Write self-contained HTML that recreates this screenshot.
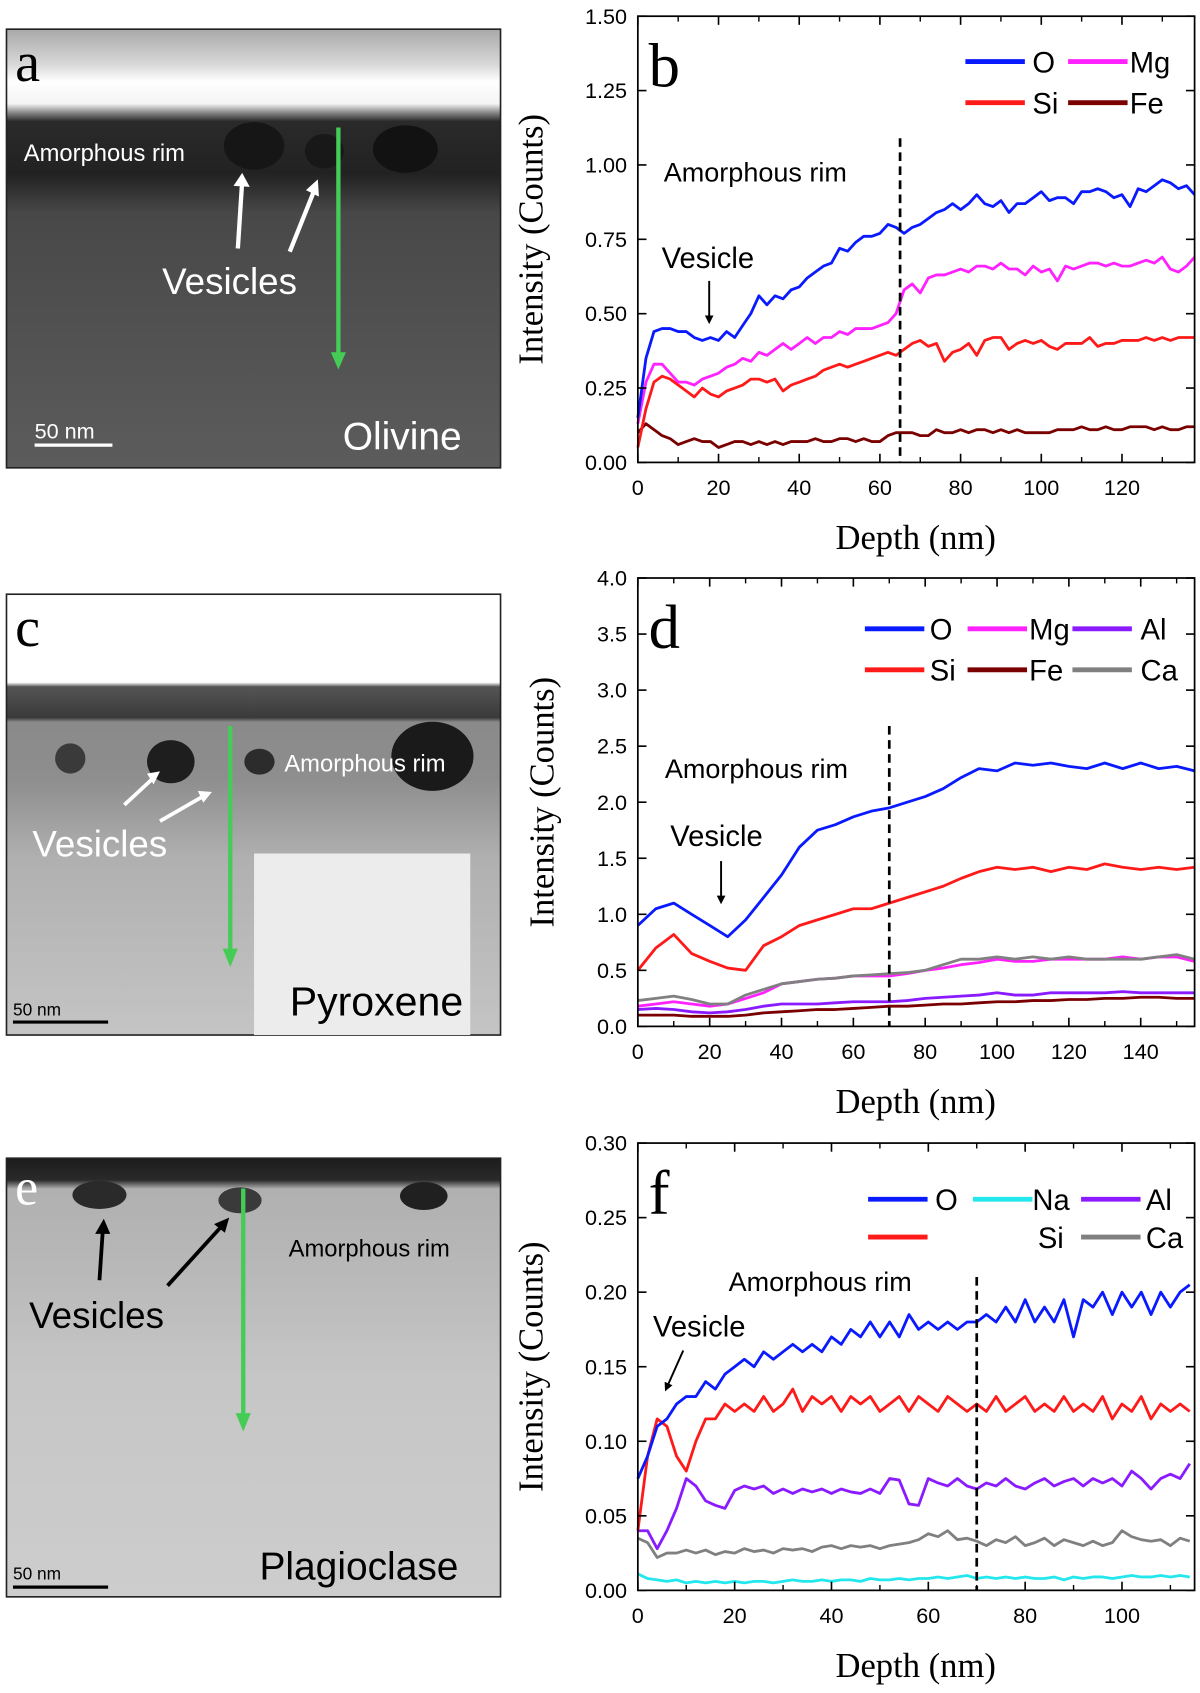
<!DOCTYPE html>
<html><head><meta charset="utf-8"><style>
html,body{margin:0;padding:0;background:#fff;}
svg{display:block;}
text{font-family:"Liberation Sans",sans-serif;}
.serif{font-family:"Liberation Serif",serif;}
</style></head><body>
<svg id="fig" width="1200" height="1693" viewBox="0 0 1110 1567" preserveAspectRatio="none" xmlns="http://www.w3.org/2000/svg">
<defs>
<linearGradient id="gA" x1="0" y1="0" x2="0" y2="1">
<stop offset="0" stop-color="#a8a8a8"/><stop offset="0.08" stop-color="#d8d8d8"/><stop offset="0.12" stop-color="#ffffff"/><stop offset="0.17" stop-color="#f4f4f4"/><stop offset="0.19" stop-color="#8a8a8a"/><stop offset="0.21" stop-color="#2a2a2a"/><stop offset="0.33" stop-color="#222"/><stop offset="0.42" stop-color="#484848"/><stop offset="1" stop-color="#5c5c5c"/>
</linearGradient>
<linearGradient id="gC" x1="0" y1="0" x2="0" y2="1">
<stop offset="0" stop-color="#fff"/><stop offset="0.2" stop-color="#fff"/><stop offset="0.21" stop-color="#555"/><stop offset="0.28" stop-color="#3a3a3a"/><stop offset="0.29" stop-color="#8a8a8a"/><stop offset="0.42" stop-color="#8e8e8e"/><stop offset="0.6" stop-color="#b0b0b0"/><stop offset="1" stop-color="#c4c4c4"/>
</linearGradient>
<linearGradient id="gE" x1="0" y1="0" x2="0" y2="1">
<stop offset="0" stop-color="#1c1c1c"/><stop offset="0.05" stop-color="#2a2a2a"/><stop offset="0.07" stop-color="#b0b0b0"/><stop offset="0.25" stop-color="#b8b8b8"/><stop offset="0.5" stop-color="#c6c6c6"/><stop offset="1" stop-color="#cdcdcd"/>
</linearGradient>
<marker id="ah" markerWidth="8" markerHeight="8" refX="6" refY="4" orient="auto" markerUnits="userSpaceOnUse"><path d="M0,0 L8,4 L0,8 z" fill="#000"/></marker>
</defs>

<!-- Panel a image -->
<g>
<rect x="6" y="27" width="457" height="406" fill="url(#gA)" stroke="#222" stroke-width="1.5"/>
<ellipse cx="235" cy="135" rx="28" ry="22" fill="#161616"/>
<ellipse cx="375" cy="138" rx="30" ry="22" fill="#121212"/>
<ellipse cx="300" cy="140" rx="18" ry="16" fill="#181818"/>
<text x="14" y="75" class="serif" font-size="52" fill="#000">a</text>
<text x="22" y="149" font-size="22" fill="#fff">Amorphous rim</text>
<text x="150" y="272" font-size="34" fill="#fff">Vesicles</text>
<line x1="220" y1="230" x2="224" y2="168" stroke="#fff" stroke-width="4"/>
<path d="M216,172 L224,160 L231,173 z" fill="#fff"/>
<line x1="268" y1="233" x2="290" y2="178" stroke="#fff" stroke-width="4"/>
<path d="M283,176 L294,166 L295,182 z" fill="#fff"/>
<line x1="313" y1="118" x2="313" y2="328" stroke="#44cc55" stroke-width="4"/>
<path d="M306,326 L313,342 L320,326 z" fill="#44cc55"/>
<text x="32" y="406" font-size="20" fill="#fff">50 nm</text>
<line x1="32" y1="412" x2="104" y2="412" stroke="#fff" stroke-width="3"/>
<text x="317" y="416" font-size="36" fill="#fff">Olivine</text>
</g>

<!-- Panel c image -->
<g>
<rect x="6" y="550" width="457" height="408" fill="url(#gC)" stroke="#222" stroke-width="1.5"/>
<rect x="235" y="790" width="200" height="168" fill="#ececec"/>
<ellipse cx="158" cy="705" rx="22" ry="20" fill="#1e1e1e"/>
<ellipse cx="65" cy="702" rx="14" ry="14" fill="#3a3a3a"/>
<ellipse cx="400" cy="700" rx="38" ry="32" fill="#1a1a1a"/>
<ellipse cx="240" cy="705" rx="14" ry="12" fill="#2c2c2c"/>
<text x="14" y="598" class="serif" font-size="52" fill="#000">c</text>
<text x="263" y="714" font-size="22" fill="#fff">Amorphous rim</text>
<text x="30" y="793" font-size="34" fill="#fff">Vesicles</text>
<line x1="115" y1="745" x2="142" y2="720" stroke="#fff" stroke-width="3.5"/>
<path d="M136,716 L148,714 L142,726 z" fill="#fff"/>
<line x1="148" y1="760" x2="188" y2="737" stroke="#fff" stroke-width="3.5"/>
<path d="M183,732 L196,733 L188,743 z" fill="#fff"/>
<line x1="213" y1="672" x2="213" y2="880" stroke="#44cc55" stroke-width="4"/>
<path d="M206,878 L213,895 L220,878 z" fill="#44cc55"/>
<text x="12" y="940" font-size="16" fill="#000">50 nm</text>
<line x1="12" y1="946" x2="100" y2="946" stroke="#000" stroke-width="3"/>
<text x="268" y="940" font-size="38" fill="#000">Pyroxene</text>
</g>

<!-- Panel e image -->
<g>
<rect x="6" y="1072" width="457" height="406" fill="url(#gE)" stroke="#222" stroke-width="1.5"/>
<ellipse cx="92" cy="1106" rx="25" ry="13" fill="#2a2a2a"/>
<ellipse cx="222" cy="1111" rx="20" ry="12" fill="#3a3a3a"/>
<ellipse cx="392" cy="1107" rx="22" ry="13" fill="#202020"/>
<text x="14" y="1115" class="serif" font-size="48" fill="#fff">e</text>
<text x="267" y="1163" font-size="22" fill="#000">Amorphous rim</text>
<text x="27" y="1229" font-size="34" fill="#000">Vesicles</text>
<line x1="92" y1="1185" x2="95" y2="1140" stroke="#000" stroke-width="3.5"/>
<path d="M88,1142 L96,1128 L102,1142 z" fill="#000"/>
<line x1="155" y1="1190" x2="205" y2="1135" stroke="#000" stroke-width="3.5"/>
<path d="M198,1133 L212,1127 L208,1141 z" fill="#000"/>
<line x1="225" y1="1100" x2="225" y2="1310" stroke="#44cc55" stroke-width="4"/>
<path d="M218,1308 L225,1325 L232,1308 z" fill="#44cc55"/>
<text x="12" y="1462" font-size="16" fill="#000">50 nm</text>
<line x1="12" y1="1469" x2="100" y2="1469" stroke="#000" stroke-width="3"/>
<text x="240" y="1462" font-size="36" fill="#000">Plagioclase</text>
</g>

<g id="charts"></g>
</svg>
<script>
// ---------- Panel b data ----------
const depthB = [0,2,4,6,8,10,12,14,16,18,20,22,24,26,28,30,32,34,36,38,40,42,44,46,48,50,52,54,56,58,60,62,64,66,68,70,72,74,76,78,80,82,84,86,88,90,92,94,96,98,100,102,104,106,108,110,112,114,116,118,120,122,124,126,128,130,132,134,136,138];
const bO  = [0.15,0.35,0.44,0.45,0.45,0.44,0.44,0.42,0.41,0.42,0.41,0.44,0.42,0.46,0.50,0.56,0.53,0.56,0.55,0.58,0.59,0.62,0.64,0.66,0.67,0.72,0.71,0.74,0.76,0.76,0.77,0.80,0.79,0.77,0.79,0.80,0.82,0.84,0.85,0.87,0.85,0.87,0.90,0.87,0.86,0.88,0.84,0.87,0.87,0.89,0.91,0.88,0.89,0.89,0.87,0.91,0.91,0.92,0.91,0.89,0.90,0.86,0.92,0.91,0.93,0.95,0.94,0.92,0.93,0.90];
const bMg = [0.13,0.27,0.33,0.33,0.30,0.27,0.27,0.26,0.28,0.29,0.30,0.32,0.33,0.35,0.34,0.37,0.36,0.38,0.40,0.38,0.40,0.42,0.40,0.42,0.42,0.44,0.43,0.45,0.45,0.45,0.46,0.47,0.50,0.58,0.60,0.57,0.62,0.63,0.63,0.64,0.65,0.64,0.66,0.66,0.65,0.67,0.65,0.65,0.63,0.66,0.64,0.65,0.61,0.66,0.65,0.66,0.67,0.67,0.66,0.67,0.66,0.66,0.67,0.68,0.67,0.69,0.65,0.64,0.66,0.69];
const bSi = [0.05,0.18,0.27,0.29,0.28,0.26,0.24,0.22,0.25,0.23,0.22,0.24,0.25,0.26,0.28,0.28,0.27,0.28,0.24,0.26,0.27,0.28,0.29,0.31,0.32,0.33,0.32,0.33,0.34,0.35,0.36,0.37,0.36,0.38,0.40,0.41,0.39,0.40,0.34,0.37,0.38,0.40,0.36,0.41,0.42,0.42,0.38,0.40,0.41,0.40,0.41,0.39,0.38,0.40,0.40,0.40,0.42,0.39,0.40,0.40,0.41,0.41,0.41,0.42,0.41,0.42,0.41,0.42,0.42,0.42];
const bFe = [0.10,0.13,0.11,0.09,0.08,0.06,0.07,0.08,0.07,0.07,0.05,0.06,0.07,0.07,0.06,0.07,0.06,0.07,0.06,0.07,0.07,0.07,0.08,0.07,0.07,0.08,0.08,0.07,0.08,0.07,0.07,0.09,0.10,0.10,0.10,0.09,0.09,0.11,0.10,0.10,0.11,0.10,0.11,0.11,0.10,0.11,0.10,0.11,0.10,0.10,0.10,0.10,0.11,0.11,0.11,0.12,0.11,0.11,0.12,0.11,0.11,0.12,0.12,0.12,0.11,0.12,0.11,0.11,0.12,0.12];
const yTicksB = ["0.00","0.25","0.50","0.75","1.00","1.25","1.50"];
const xTicksB = ["0","20","40","60","80","100","120"];

// ---------- Panel d data ----------
const depthD = [0,5,10,15,20,25,30,35,40,45,50,55,60,65,70,75,80,85,90,95,100,105,110,115,120,125,130,135,140,145,150,155];
const dO  = [0.90,1.05,1.10,1.00,0.90,0.80,0.95,1.15,1.35,1.60,1.75,1.80,1.87,1.92,1.95,2.00,2.05,2.12,2.22,2.30,2.28,2.35,2.33,2.35,2.32,2.30,2.35,2.30,2.35,2.30,2.32,2.28];
const dSi = [0.50,0.70,0.82,0.65,0.58,0.52,0.50,0.72,0.80,0.90,0.95,1.00,1.05,1.05,1.10,1.15,1.20,1.25,1.32,1.38,1.42,1.40,1.42,1.38,1.42,1.40,1.45,1.42,1.40,1.42,1.40,1.42];
const dMg = [0.18,0.20,0.22,0.20,0.18,0.20,0.25,0.30,0.38,0.40,0.42,0.43,0.45,0.45,0.45,0.47,0.50,0.52,0.55,0.57,0.60,0.58,0.58,0.60,0.60,0.60,0.60,0.62,0.60,0.62,0.62,0.58];
const dCa = [0.23,0.25,0.27,0.24,0.20,0.20,0.28,0.33,0.38,0.40,0.42,0.43,0.45,0.46,0.47,0.48,0.50,0.55,0.60,0.60,0.62,0.60,0.62,0.60,0.62,0.60,0.60,0.60,0.60,0.62,0.64,0.60];
const dAl = [0.15,0.16,0.15,0.13,0.12,0.13,0.15,0.18,0.20,0.20,0.20,0.21,0.22,0.22,0.22,0.23,0.25,0.26,0.27,0.28,0.30,0.28,0.28,0.30,0.30,0.30,0.30,0.31,0.30,0.30,0.30,0.30];
const dFe = [0.10,0.10,0.10,0.09,0.09,0.09,0.10,0.12,0.13,0.14,0.15,0.15,0.16,0.17,0.18,0.18,0.19,0.20,0.20,0.21,0.22,0.22,0.23,0.23,0.24,0.24,0.25,0.25,0.26,0.26,0.25,0.25];
const yTicksD = ["0.0","0.5","1.0","1.5","2.0","2.5","3.0","3.5","4.0"];
const xTicksD = ["0","20","40","60","80","100","120","140"];

// ---------- Panel f data ----------
const depthF = [0,2,4,6,8,10,12,14,16,18,20,22,24,26,28,30,32,34,36,38,40,42,44,46,48,50,52,54,56,58,60,62,64,66,68,70,72,74,76,78,80,82,84,86,88,90,92,94,96,98,100,102,104,106,108,110,112,114];
const fO  = [0.075,0.09,0.11,0.115,0.125,0.13,0.13,0.14,0.135,0.145,0.15,0.155,0.15,0.16,0.155,0.16,0.165,0.16,0.165,0.16,0.17,0.165,0.175,0.17,0.18,0.17,0.18,0.17,0.185,0.175,0.18,0.175,0.18,0.175,0.18,0.18,0.185,0.18,0.19,0.18,0.195,0.18,0.19,0.18,0.195,0.17,0.195,0.19,0.2,0.185,0.2,0.19,0.2,0.185,0.2,0.19,0.2,0.205];
const fSi = [0.04,0.09,0.115,0.11,0.09,0.08,0.1,0.115,0.115,0.125,0.12,0.125,0.12,0.13,0.12,0.125,0.135,0.12,0.13,0.125,0.13,0.12,0.13,0.125,0.13,0.12,0.125,0.13,0.12,0.13,0.125,0.12,0.13,0.125,0.12,0.125,0.12,0.13,0.12,0.125,0.13,0.12,0.125,0.12,0.13,0.12,0.125,0.12,0.13,0.115,0.125,0.12,0.13,0.115,0.125,0.12,0.125,0.12];
const fAl = [0.04,0.04,0.028,0.04,0.055,0.075,0.07,0.06,0.057,0.055,0.067,0.07,0.068,0.07,0.065,0.068,0.065,0.068,0.066,0.068,0.065,0.068,0.066,0.065,0.068,0.065,0.075,0.074,0.058,0.057,0.075,0.072,0.07,0.075,0.07,0.068,0.072,0.07,0.075,0.07,0.068,0.072,0.075,0.07,0.073,0.075,0.07,0.075,0.072,0.075,0.07,0.08,0.075,0.068,0.075,0.078,0.075,0.085];
const fCa = [0.035,0.032,0.022,0.025,0.025,0.027,0.025,0.027,0.024,0.026,0.025,0.028,0.026,0.027,0.025,0.028,0.027,0.028,0.026,0.029,0.03,0.028,0.03,0.029,0.03,0.028,0.03,0.031,0.032,0.034,0.038,0.036,0.04,0.034,0.035,0.033,0.03,0.034,0.032,0.036,0.03,0.032,0.035,0.03,0.034,0.032,0.03,0.033,0.03,0.032,0.04,0.036,0.034,0.033,0.034,0.03,0.035,0.033];
const fNa = [0.011,0.008,0.007,0.006,0.007,0.005,0.006,0.005,0.006,0.005,0.006,0.005,0.006,0.006,0.005,0.006,0.007,0.006,0.006,0.007,0.006,0.007,0.007,0.006,0.008,0.007,0.007,0.008,0.007,0.008,0.008,0.009,0.008,0.009,0.01,0.008,0.009,0.008,0.009,0.008,0.009,0.008,0.008,0.009,0.007,0.009,0.008,0.009,0.009,0.008,0.009,0.01,0.009,0.009,0.01,0.009,0.01,0.009];
const yTicksF = ["0.00","0.05","0.10","0.15","0.20","0.25","0.30"];
const xTicksF = ["0","20","40","60","80","100"];

const NS = "http://www.w3.org/2000/svg";
const root = document.getElementById('charts');
function mk(tag, attrs, parent) {
  const e = document.createElementNS(NS, tag);
  for (const k in attrs) e.setAttribute(k, attrs[k]);
  (parent || root).appendChild(e);
  return e;
}

function chart(cfg) {
  const g = mk('g', {});
  
  
  const L = 590, R = 1105, T = cfg.top, B = cfg.bottom;
  const sx = v => L + (v - 0) / cfg.xmax * (R - L);
  const sy = v => B - (v - 0) / cfg.ymax * (B - T);
  // series
  cfg.series.forEach(s => {
    const n = Math.min(s.x.length, s.y.length);
    let d = '';
    for (let i = 0; i < n; i++) d += (i ? 'L' : 'M') + sx(s.x[i]).toFixed(1) + ',' + sy(s.y[i]).toFixed(1);
    const p = mk('path', {d: d, fill: 'none', stroke: s.color, 'stroke-width': 2.6, 'stroke-linejoin': 'round'}, g);
    
    
  });
  // dashed
  const dl = mk('line', {x1: sx(cfg.rim), x2: sx(cfg.rim), y1: cfg.rimTop, y2: B, stroke: '#000', 'stroke-width': 2.5, 'stroke-dasharray': '8,5'}, g);
  
  
  // frame
  const fr = mk('rect', {x: L, y: T, width: R - L, height: B - T, fill: 'none', stroke: '#000', 'stroke-width': 1.6}, g);
  
  
  // y ticks
  cfg.yTicks.forEach((t, i) => {
    const v = parseFloat(t), y = sy(v);
    mk('line', {x1: L, x2: L + 8, y1: y, y2: y, stroke: '#000', 'stroke-width': 1.5}, g);
    mk('line', {x1: R, x2: R - 8, y1: y, y2: y, stroke: '#000', 'stroke-width': 1.5}, g);
    const tx = mk('text', {x: L - 10, y: y + 7, 'font-size': 20, 'text-anchor': 'end'}, g);
    tx.textContent = t;
    
    
  });
  // x ticks
  cfg.xTicks.forEach((t, i) => {
    const v = parseFloat(t), x = sx(v);
    mk('line', {x1: x, x2: x, y1: B, y2: B - 8, stroke: '#000', 'stroke-width': 1.5}, g);
    mk('line', {x1: x, x2: x, y1: T, y2: T + 8, stroke: '#000', 'stroke-width': 1.5}, g);
    const xm = sx(v + cfg.xstep / 2);
    if (xm < R) {
      mk('line', {x1: xm, x2: xm, y1: B, y2: B - 5, stroke: '#000', 'stroke-width': 1.3}, g);
      mk('line', {x1: xm, x2: xm, y1: T, y2: T + 5, stroke: '#000', 'stroke-width': 1.3}, g);
    }
    const tx = mk('text', {x: x, y: B + 30, 'font-size': 20, 'text-anchor': 'middle'}, g);
    tx.textContent = t;
    
    
  });
  // axis titles
  const xt = mk('text', {x: 847, y: B + 80, 'font-size': 32, 'text-anchor': 'middle', 'class': 'serif'}, g);
  xt.textContent = 'Depth (nm)';
  
  
  const cy = (T + B) / 2;
  const yt = mk('text', {x: cfg.ylx, y: cy, 'font-size': 32, 'text-anchor': 'middle', 'class': 'serif', transform: 'rotate(-90 ' + cfg.ylx + ' ' + cy + ')'}, g);
  yt.textContent = 'Intensity (Counts)';
  
  
  // panel letter
  const pl = mk('text', {x: 600, y: T + 65, 'font-size': 58, 'class': 'serif'}, g);
  pl.textContent = cfg.letter;
  
  
  // legend
  cfg.legend.forEach(e => {
    const ln = mk('line', {x1: e.lx, x2: e.lx + 55, y1: e.y, y2: e.y, stroke: e.color, 'stroke-width': 4.5}, g);
    
    
    const tx = mk('text', {x: e.tx, y: e.y + 10, 'font-size': 27}, g);
    tx.textContent = e.label;
    
    
  });
  // annotations
  const ar = mk('text', {x: cfg.rimText[0], y: cfg.rimText[1], 'font-size': 25}, g);
  ar.textContent = 'Amorphous rim';
  
  
  const vs = mk('text', {x: cfg.vesText[0], y: cfg.vesText[1], 'font-size': 27}, g);
  vs.textContent = 'Vesicle';
  
  
  const va = mk('line', {x1: cfg.vesArrow[0], y1: cfg.vesArrow[1], x2: cfg.vesArrow[2], y2: cfg.vesArrow[3], stroke: '#000', 'stroke-width': 1.8, 'marker-end': 'url(#ah)'}, g);
  
  
}

chart({name: 'chart-b-olivine-profile', letter: 'b', top: 15, bottom: 428, xmax: 138, ymax: 1.5, xstep: 20, ylx: 502,
  yTicks: yTicksB, xTicks: xTicksB, rim: 65, rimTop: 128,
  series: [
    {x: depthB, y: bFe, color: '#7a0000', label: 'Fe'},
    {x: depthB, y: bSi, color: '#ff1a1a', label: 'Si'},
    {x: depthB, y: bMg, color: '#ff22ff', label: 'Mg'},
    {x: depthB, y: bO, color: '#0a1aff', label: 'O'}],
  legend: [
    {lx: 893, tx: 955, y: 57, color: '#0a1aff', label: 'O'},
    {lx: 988, tx: 1045, y: 57, color: '#ff22ff', label: 'Mg'},
    {lx: 893, tx: 955, y: 95, color: '#ff1a1a', label: 'Si'},
    {lx: 988, tx: 1045, y: 95, color: '#7a0000', label: 'Fe'}],
  rimText: [614, 168], vesText: [612, 248], vesArrow: [656, 260, 656, 298]});

chart({name: 'chart-d-pyroxene-profile', letter: 'd', top: 535, bottom: 950, xmax: 155, ymax: 4.0, xstep: 20, ylx: 512,
  yTicks: yTicksD, xTicks: xTicksD, rim: 70, rimTop: 672,
  series: [
    {x: depthD, y: dFe, color: '#7a0000', label: 'Fe'},
    {x: depthD, y: dAl, color: '#8a1aff', label: 'Al'},
    {x: depthD, y: dMg, color: '#ff22ff', label: 'Mg'},
    {x: depthD, y: dCa, color: '#808080', label: 'Ca'},
    {x: depthD, y: dSi, color: '#ff1a1a', label: 'Si'},
    {x: depthD, y: dO, color: '#0a1aff', label: 'O'}],
  legend: [
    {lx: 800, tx: 860, y: 582, color: '#0a1aff', label: 'O'},
    {lx: 895, tx: 952, y: 582, color: '#ff22ff', label: 'Mg'},
    {lx: 992, tx: 1055, y: 582, color: '#8a1aff', label: 'Al'},
    {lx: 800, tx: 860, y: 620, color: '#ff1a1a', label: 'Si'},
    {lx: 895, tx: 952, y: 620, color: '#7a0000', label: 'Fe'},
    {lx: 992, tx: 1055, y: 620, color: '#808080', label: 'Ca'}],
  rimText: [615, 720], vesText: [620, 783], vesArrow: [667, 797, 667, 835]});

chart({name: 'chart-f-plagioclase-profile', letter: 'f', top: 1058, bottom: 1472, xmax: 115, ymax: 0.30, xstep: 20, ylx: 502,
  yTicks: yTicksF, xTicks: xTicksF, rim: 70, rimTop: 1182,
  series: [
    {x: depthF, y: fNa, color: '#22e8ee', label: 'Na'},
    {x: depthF, y: fCa, color: '#808080', label: 'Ca'},
    {x: depthF, y: fAl, color: '#8a1aff', label: 'Al'},
    {x: depthF, y: fSi, color: '#ff1a1a', label: 'Si'},
    {x: depthF, y: fO, color: '#0a1aff', label: 'O'}],
  legend: [
    {lx: 803, tx: 865, y: 1110, color: '#0a1aff', label: 'O'},
    {lx: 900, tx: 955, y: 1110, color: '#22e8ee', label: 'Na'},
    {lx: 1000, tx: 1060, y: 1110, color: '#8a1aff', label: 'Al'},
    {lx: 803, tx: 960, y: 1145, color: '#ff1a1a', label: 'Si'},
    {lx: 1000, tx: 1060, y: 1145, color: '#808080', label: 'Ca'}],
  rimText: [674, 1195], vesText: [604, 1237], vesArrow: [632, 1250, 616, 1286]});
</script>
</body></html>
